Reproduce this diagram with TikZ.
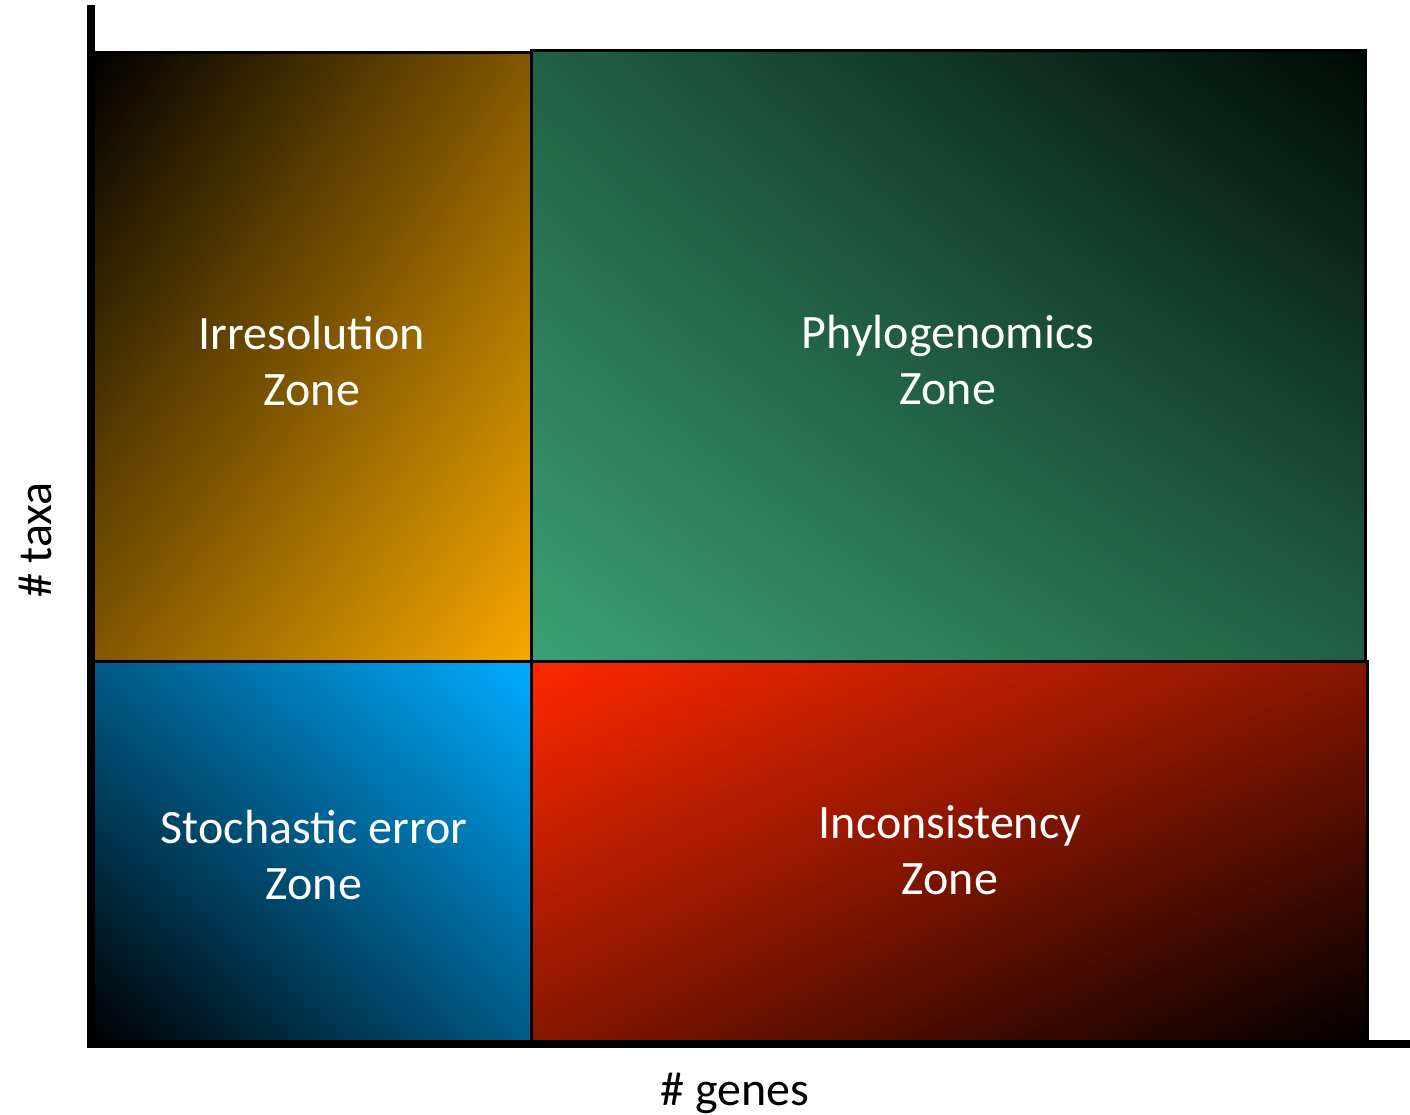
\documentclass[tikz,border=0pt]{standalone}
\usepackage{fontspec}
\setmainfont{Carlito}
\usetikzlibrary{shadings}
\definecolor{irrC}{RGB}{247,168,0}
\definecolor{irrM}{RGB}{130,88,0}
\definecolor{phyC}{RGB}{58,160,117}
\definecolor{phyM}{RGB}{33,96,70}
\definecolor{phyD}{RGB}{0,10,5}
\definecolor{stoC}{RGB}{0,172,255}
\definecolor{stoM}{RGB}{0,90,134}
\definecolor{incC}{RGB}{255,40,0}
\definecolor{incM}{RGB}{134,22,0}
\tikzset{
  zone/.style={draw=black, line width=3pt},
  zonetext/.style={text=white, align=center, font=\fontsize{48}{56}\selectfont},
  axislabel/.style={text=black, font=\fontsize{48}{56}\selectfont},
  axisline/.style={draw=black, line width=8pt}
}
\begin{document}
\begin{tikzpicture}[x=1pt,y=-1pt]
\useasboundingbox (0,0) rectangle (1410,1115);
% zones
\shade[zone, upper left=black, upper right=irrM, lower left=irrM, lower right=irrC] (93,53) rectangle (531,661);
\shade[zone, upper left=phyM, upper right=phyD, lower left=phyC, lower right=phyM] (531,51) rectangle (1365,661);
\shade[zone, upper left=stoM, upper right=stoC, lower left=black, lower right=stoM] (93,661) rectangle (531,1042);
\shade[zone, upper left=incC, upper right=incM, lower left=incM, lower right=black] (531,661) rectangle (1367,1042);
% axes
\coordinate (ytop) at (91,5);
\coordinate (orig) at (91,1044);
\coordinate (xstart) at (87,1044);
\coordinate (xend) at (1410,1044);
\draw[axisline] (ytop) -- ([yshift=-4pt]orig);
\draw[axisline] (xstart) -- (xend);
% labels
\node[zonetext] (irr) at (312,361) {Irresolution\\Zone};
\node[zonetext] (phy) at (948,360) {Phylogenomics\\Zone};
\node[zonetext] (sto) at (314,855) {Stochastic error\\Zone};
\node[zonetext] (inc) at (950,850) {Inconsistency\\Zone};
\node[axislabel, rotate=90] (taxa) at (35,540) {\# taxa};
\node[axislabel] (genes) at (735,1093) {\# genes};
\end{tikzpicture}
\end{document}
